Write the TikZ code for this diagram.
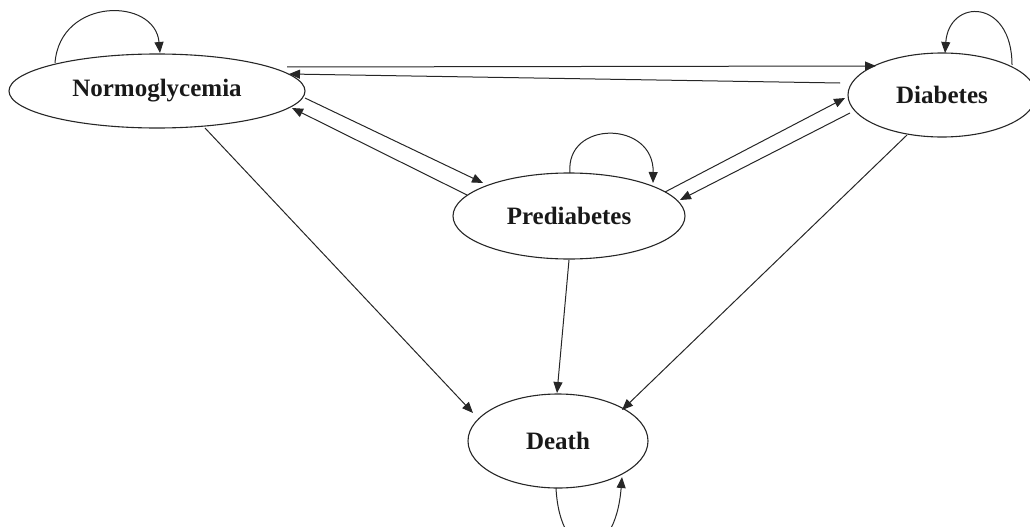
\documentclass[tikz,border=0pt]{standalone}
\usepackage{fontspec}
\setmainfont{Liberation Serif}
\usetikzlibrary{shapes.geometric,arrows.meta,calc}
\begin{document}
\begin{tikzpicture}[x=1pt,y=-1pt,
  state/.style={draw=black!85, line width=1.1pt, ellipse, inner sep=0pt,
    font=\fontsize{25}{30}\selectfont\bfseries, text=black!90},
  arr/.style={draw=black!85, line width=1pt, -{Triangle[length=11pt,width=9pt]}}]
\useasboundingbox (0,0) rectangle (1030,527);
\node[state, minimum width=296pt, minimum height=74pt] (N) at (157,91) {Normoglycemia};
\node[state, minimum width=188pt, minimum height=84pt] (D) at (942,95) {Diabetes};
\node[state, minimum width=232pt, minimum height=86pt] (P) at (569,216) {Prediabetes};
\node[state, minimum width=180pt, minimum height=94pt] (X) at (558,441) {Death};
% self loops
\draw[arr] ($(N)+(-102,-28)$) .. controls ($(N)+(-97,-94)$) and ($(N)+(-2,-94)$) .. ($(N)+(3,-38)$);
\draw[arr] ($(D)+(70,-30)$) .. controls ($(D)+(70,-97)$) and ($(D)+(7,-97)$) .. ($(D)+(3,-42)$);
\draw[arr] ($(P)+(1,-43)$) .. controls ($(P)+(-4,-96)$) and ($(P)+(85,-96)$) .. ($(P)+(84,-33)$);
\draw[arr] ($(X)+(-2,47)$) .. controls ($(X)+(2,125)$) and ($(X)+(57,125)$) .. ($(X)+(64,36)$);
% transitions
\draw[arr] ($(N)+(130,-24)$) -- ($(D)+(-66,-29)$);
\draw[arr] ($(D)+(-102,-12)$) -- ($(N)+(132,-17)$);
\draw[arr] ($(N)+(148,7)$) -- ($(P)+(-86,-33)$);
\draw[arr] ($(P)+(-102,-21)$) -- ($(N)+(135,17)$);
\draw[arr] ($(P)+(96,-24)$) -- ($(D)+(-97,3)$);
\draw[arr] ($(D)+(-92,18)$) -- ($(P)+(111,-16)$);
\draw[arr] ($(N)+(48,37)$) -- ($(X)+(-85,-28)$);
\draw[arr] ($(P)+(0,44)$) -- ($(X)+(-1,-48)$);
\draw[arr] ($(D)+(-35,40)$) -- ($(X)+(64,-31)$);
\end{tikzpicture}
\end{document}
